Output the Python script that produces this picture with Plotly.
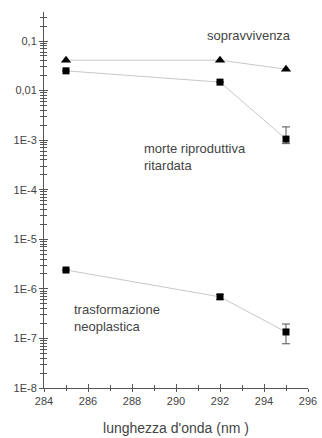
import plotly.graph_objects as go

wavelength = [285, 292, 295]
sopravvivenza = [0.041, 0.041, 0.027]
morte = [0.025, 0.0148, 0.00105]
morte_err_plus = [0, 0, 0.0008]
morte_err_minus = [0, 0, 0.0002]
neoplastica = [2.4e-6, 6.9e-7, 1.35e-7]
neo_err_plus = [0, 0.8e-7, 0.6e-7]
neo_err_minus = [0, 0.8e-7, 0.57e-7]

x_ticks = [284, 286, 288, 290, 292, 294, 296]
x_minor = [285, 287, 289, 291, 293, 295]
y_tickvals = [0.1, 0.01, 1e-3, 1e-4, 1e-5, 1e-6, 1e-7, 1e-8]
y_ticktext = ["0,1", "0,01", "1E-3", "1E-4", "1E-5", "1E-6", "1E-7", "1E-8"]

line_style = dict(color="#c8c8c8", width=1)
fig = go.Figure()
fig.add_trace(go.Scatter(x=wavelength, y=sopravvivenza, mode="lines+markers",
                         line=line_style,
                         marker=dict(symbol="triangle-up", size=9, color="black")))
fig.add_trace(go.Scatter(x=wavelength, y=morte, mode="lines+markers",
                         line=line_style,
                         marker=dict(symbol="square", size=7, color="black"),
                         error_y=dict(type="data", array=morte_err_plus, arrayminus=morte_err_minus,
                                      color="#555", thickness=1, width=4)))
fig.add_trace(go.Scatter(x=wavelength, y=neoplastica, mode="lines+markers",
                         line=line_style,
                         marker=dict(symbol="square", size=7, color="black"),
                         error_y=dict(type="data", array=neo_err_plus, arrayminus=neo_err_minus,
                                      color="#555", thickness=1, width=4)))
# invisible trace to carry the mirrored inside ticks
fig.add_trace(go.Scatter(x=[wavelength[0]], y=[sopravvivenza[0]], xaxis="x2", yaxis="y2",
                         mode="markers", marker=dict(opacity=0), hoverinfo="skip"))

minor_y = []
for e in range(-8, 0):
    for m in range(2, 10):
        minor_y.append(m * 10 ** e)

font_c = "#444"
ax_c = "#555"
yr = [-8, -0.415]
fig.update_layout(
    width=322, height=438,
    margin=dict(l=44, r=14, t=12, b=50),
    plot_bgcolor="white", paper_bgcolor="white",
    showlegend=False,
    font=dict(family="Liberation Sans, Arial", size=11, color=font_c),
    xaxis=dict(range=[284, 296], tickvals=x_ticks, ticks="outside", ticklen=3, automargin=False,
               showline=True, linecolor=ax_c, linewidth=1, showgrid=False, zeroline=False,
               minor=dict(tickvals=x_minor, ticks="outside", ticklen=2, tickcolor=ax_c),
               tickcolor=ax_c, tickfont=dict(size=11, color=font_c),
               title=dict(text="lunghezza d'onda (nm )", font=dict(size=14, color=font_c), standoff=16)),
    yaxis=dict(type="log", range=yr, tickvals=y_tickvals, ticktext=y_ticktext, automargin=False,
               ticks="outside", ticklen=4, tickcolor=ax_c,
               showline=True, linecolor=ax_c, linewidth=1, showgrid=False, zeroline=False,
               minor=dict(tickvals=minor_y, ticks="outside", ticklen=3, tickcolor=ax_c),
               tickfont=dict(size=11, color=font_c)),
    xaxis2=dict(range=[284, 296], overlaying="x", tickvals=x_ticks, ticks="inside", ticklen=4,
                automargin=False,
                tickcolor=ax_c, showticklabels=False, showgrid=False, zeroline=False,
                minor=dict(tickvals=x_minor, ticks="inside", ticklen=3, tickcolor=ax_c)),
    yaxis2=dict(type="log", range=yr, overlaying="y", tickvals=y_tickvals, ticks="inside", ticklen=4,
                automargin=False,
                tickcolor=ax_c, showticklabels=False, showgrid=False, zeroline=False,
                minor=dict(tickvals=minor_y, ticks="inside", ticklen=3, tickcolor=ax_c)),
)

ann = [
    ("sopravvivenza", 205, 36),
    ("morte riproduttiva<br>ritardata", 142, 157),
    ("trasformazione<br>neoplastica", 72, 318),
]
for txt, px, py in ann:
    fig.add_annotation(text=txt, xref="paper", yref="paper",
                       x=(px - 44) / 264, y=1 - (py - 12) / 376,
                       xanchor="left", yanchor="middle", showarrow=False, align="left",
                       font=dict(size=13, color=font_c))

fig.write_html("out.html")
